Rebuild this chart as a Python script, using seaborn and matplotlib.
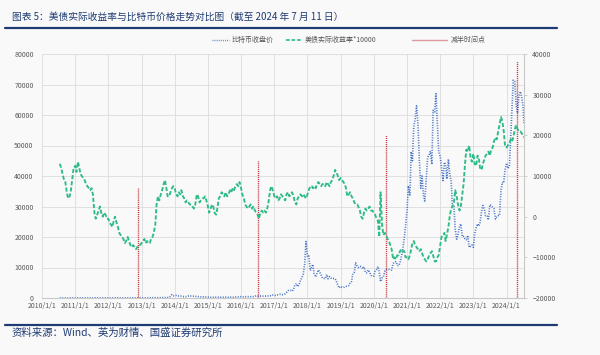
import numpy as np
import pandas as pd
import matplotlib
matplotlib.use("Agg")
import matplotlib.pyplot as plt
import matplotlib.dates as mdates
from matplotlib.lines import Line2D
import seaborn as sns

# ---------------- data (semi-monthly: 1st & 15th, from 2010-07-15; last point 2024-07-11) ----------------
btc_2010 = [0.06, 0.07, 0.07, 0.06, 0.06, 0.06, 0.1, 0.2, 0.28, 0.21, 0.25]
btc_2011 = [0.3, 0.4, 0.9, 1.0, 0.9, 0.8, 0.8, 1.5, 3.5, 7, 10, 20, 16, 14, 13, 11, 8, 5, 5, 4, 3, 2.5, 3, 4]
btc_2012 = [5.3, 6.5, 5.5, 5, 4.9, 5.3, 5, 5, 5.1, 5.2, 6, 6.7, 8, 9, 10, 11, 11, 12, 12, 11, 11, 11, 12, 13]
btc_2013 = [13, 15, 20, 27, 34, 50, 100, 90, 115, 120, 120, 100, 90, 95, 105, 110, 130, 130, 130, 160, 210, 500, 1100, 750]
btc_2014 = [800, 850, 800, 650, 560, 600, 450, 500, 450, 520, 650, 600, 640, 620, 580, 500, 480, 450, 390, 360, 330, 380, 375, 320]
btc_2015 = [300, 210, 230, 260, 270, 250, 245, 225, 235, 240, 225, 245, 260, 285, 280, 230, 230, 230, 240, 265, 330, 330, 360, 430]
btc_2016 = [430, 380, 375, 410, 435, 415, 420, 450, 450, 455, 530, 750, 670, 650, 620, 575, 610, 610, 615, 640, 700, 740, 750, 960]
btc_2017 = [1000, 830, 1000, 1050, 1200, 1200, 1080, 1200, 1400, 1800, 2400, 2500, 2500, 2200, 2800, 4300, 4700, 3700, 4400, 5700, 6700, 7800, 11000, 18500]
btc_2018 = [13500, 13800, 9000, 10000, 11000, 8000, 6900, 8000, 9200, 8500, 7500, 6500, 6400, 6300, 7700, 6300, 7000, 6500, 6600, 6400, 6300, 5500, 4200, 3300]
btc_2019 = [3800, 3600, 3400, 3600, 3800, 4000, 4100, 5000, 5400, 8000, 8500, 11500, 10500, 10000, 10400, 10300, 9600, 10200, 8300, 8300, 9200, 8500, 7400, 7100]
btc_2020 = [7200, 8800, 9400, 10300, 8600, 5400, 6600, 6800, 8800, 9300, 9500, 9400, 9200, 9200, 11300, 11800, 11900, 10700, 10600, 11500, 13700, 16000, 19600, 23500]
btc_2021 = [29000, 36800, 33500, 48000, 45000, 56000, 58800, 63000, 57000, 46000, 36000, 40000, 33500, 31800, 39900, 46000, 47000, 48000, 43800, 61500, 61000, 67000, 57000, 48000]
btc_2022 = [46300, 43000, 38500, 44500, 43900, 39000, 45500, 40500, 38500, 30000, 30000, 22500, 19300, 20800, 23300, 24300, 20100, 20200, 19400, 19100, 20500, 16600, 17000, 17400]
btc_2023 = [16600, 21000, 23100, 24300, 23600, 24700, 28500, 30300, 29200, 27000, 27000, 25600, 30600, 30300, 29700, 29300, 25900, 26600, 27000, 27000, 35400, 37900, 37700, 42000]
btc_2024 = [44200, 42500, 43000, 52000, 62000, 71400, 71000, 63500, 60600, 66200, 67700, 66000, 62700, 57300]

ry_2010 = [13000, 12000, 10500, 9000, 8500, 6000, 4500, 5000, 6500, 9500, 12000]
ry_2011 = [12500, 11000, 13500, 12000, 10500, 10000, 9500, 9000, 8000, 7500, 7000, 6500, 7000, 5500, 1000, -500, 500, 1500, 2500, 1000, 0, 1000, 500, -500]
ry_2012 = [-500, -1500, -2000, -2500, -1000, 0, -1500, -2500, -4000, -4500, -5000, -5500, -6500, -6000, -5000, -6000, -7000, -7500, -7000, -7500, -8000, -7500, -7000, -7000]
ry_2013 = [-6500, -6000, -5500, -6500, -6000, -6500, -6500, -5500, -5000, -4000, -2000, 3000, 5000, 4000, 5500, 6500, 8000, 9000, 7000, 5000, 5000, 6000, 7000, 7500]
ry_2014 = [7000, 5500, 5000, 6000, 5500, 6500, 5000, 4500, 3500, 4000, 3500, 3000, 3000, 2500, 2000, 3000, 5500, 5000, 3500, 4000, 4500, 4500, 5000, 4000]
ry_2015 = [2500, 1000, 2000, 3000, 2500, 1000, 500, 2000, 4500, 5000, 6000, 5500, 5000, 6000, 5000, 5500, 6500, 6000, 7000, 6500, 7500, 8000, 7500, 8500]
ry_2016 = [7000, 5500, 4500, 3000, 2500, 2000, 2500, 3000, 2000, 2500, 1500, 1000, 500, -500, 1000, 1500, 1000, 1500, 1000, 2000, 4000, 6500, 7500, 6500]
ry_2017 = [5000, 4500, 5000, 4000, 4500, 5500, 5000, 4500, 4000, 5500, 6000, 5000, 5500, 6000, 5000, 3500, 3000, 4500, 5000, 5500, 5000, 5500, 5000, 4500]
ry_2018 = [5500, 6500, 7500, 7500, 7000, 7500, 7000, 8000, 8500, 8000, 7500, 8000, 8000, 7500, 8500, 8000, 7500, 8500, 9000, 10000, 11500, 11000, 10000, 9000]
ry_2019 = [9500, 9000, 8500, 8000, 7000, 5000, 5500, 6000, 5000, 4500, 3500, 3000, 3000, 2500, 1500, 0, -500, 1000, 2000, 1500, 2000, 2500, 1500, 1500]
ry_2020 = [1000, 500, -500, -1000, -5000, 6000, -2000, -4500, -4000, -4500, -5500, -6000, -7000, -8000, -10500, -10000, -10500, -9500, -9500, -8500, -8000, -8500, -8500, -10000]
ry_2021 = [-10000, -10500, -9500, -8000, -6500, -6000, -7000, -7500, -8000, -8500, -8000, -9000, -10000, -10500, -11000, -10500, -9500, -9000, -8500, -9500, -11000, -11000, -10000, -9500]
ry_2022 = [-7000, -5000, -4500, -4000, -6000, -4500, -2500, 0, 2000, 2500, 3500, 6500, 5000, 3000, 1500, 2500, 5500, 8000, 13000, 16500, 16000, 17500, 14500, 13500]
ry_2023 = [15500, 13000, 12500, 15000, 14500, 12000, 11500, 13000, 14000, 15000, 15500, 16000, 15000, 16500, 17000, 18500, 19500, 19000, 21000, 22500, 24500, 23500, 21000, 17500]
ry_2024 = [17000, 17500, 18000, 19000, 18500, 19500, 21500, 22500, 21500, 21000, 21000, 20500, 20000, 19500]

halving_dates = ["2012-11-28", "2016-07-09", "2020-05-11", "2024-04-20"]
halving_heights = [36000, 45000, 53500, 77700]

year_ticks = [f"{y}-01-01" for y in range(2010, 2025)]

# ---------------- assemble ----------------
btc = sum([btc_2010, btc_2011, btc_2012, btc_2013, btc_2014, btc_2015, btc_2016, btc_2017,
           btc_2018, btc_2019, btc_2020, btc_2021, btc_2022, btc_2023, btc_2024], [])
ry = sum([ry_2010, ry_2011, ry_2012, ry_2013, ry_2014, ry_2015, ry_2016, ry_2017,
          ry_2018, ry_2019, ry_2020, ry_2021, ry_2022, ry_2023, ry_2024], [])
dates = list(pd.date_range("2010-07-15", periods=len(btc) - 1, freq="SMS")) + [pd.Timestamp("2024-07-11")]
df = pd.DataFrame({"date": dates, "btc": btc, "ry": ry})

# ---------------- style ----------------
sns.set_theme(style="white")
plt.rcParams["font.family"] = ["Noto Sans CJK SC", "DejaVu Sans"]

BG = "#f9f9f9"
GRID = "#dcdcdc"
TXT = "#595959"
NAVY = "#1f3b73"
BLUE = "#4472c4"
GREEN = "#2dbb86"

fig = plt.figure(figsize=(6, 3.55), dpi=100, facecolor=BG)
ax = fig.add_axes([42 / 600, 1 - 298 / 355, (524 - 42) / 600, (298 - 54) / 355])
ax.set_facecolor(BG)
ax2 = ax.twinx()

sns.lineplot(data=df, x="date", y="btc", ax=ax, color=BLUE, lw=1.2,
             linestyle=(0, (0.6, 0.9)), legend=False, zorder=3)
sns.lineplot(data=df, x="date", y="ry", ax=ax2, color=GREEN, lw=1.35,
             linestyle=(0, (2.2, 1.1)), legend=False, zorder=3)

hd = pd.to_datetime(halving_dates)
ax.vlines(hd, 0, halving_heights, colors="#c0262c", lw=1.0, linestyles=(0, (0.7, 0.7)), zorder=4)

ax.set_xlim(pd.Timestamp("2010-01-01"), pd.Timestamp("2024-07-11"))
ax.set_ylim(0, 80000)
ax2.set_ylim(-20000, 40000)
ax.set_yticks(range(0, 80001, 10000))
ax2.set_yticks(range(-20000, 40001, 10000))
ax.set_xticks(pd.to_datetime(year_ticks))
ax.xaxis.set_major_formatter(mdates.DateFormatter("%Y/1/1"))
ax.set_xlabel("")
ax.set_ylabel("")
ax2.set_ylabel("")

ax.grid(True, color=GRID, lw=0.6)
ax2.grid(False)
ax.set_axisbelow(True)

for a in (ax, ax2):
    for s in a.spines.values():
        s.set_visible(False)
ax2.spines["right"].set_visible(True)
ax2.spines["right"].set_color("#c8c8c8")
ax2.spines["right"].set_linewidth(0.8)
ax.spines["bottom"].set_visible(True)
ax.spines["bottom"].set_color("#c8c8c8")
ax.spines["bottom"].set_linewidth(0.8)

ax.tick_params(axis="y", length=0, pad=6, labelsize=5, labelcolor=TXT)
ax.tick_params(axis="x", length=0, pad=3, labelsize=5, labelcolor=TXT)
ax2.tick_params(axis="y", length=2, width=0.6, color="#c8c8c8", pad=4, labelsize=5, labelcolor=TXT)

# legends
h1 = [Line2D([], [], color=BLUE, lw=1.0, linestyle=(0, (0.6, 0.9))),
      Line2D([], [], color=GREEN, lw=1.2, linestyle=(0, (2.2, 1.1)))]
leg1 = fig.legend(h1, ["比特币收盘价", "美债实际收益率*10000"], loc="center left",
                  bbox_to_anchor=(206 / 600, 1 - 40 / 355), ncol=2, frameon=False,
                  fontsize=5, handlelength=2.4, handletextpad=0.4, columnspacing=1.7,
                  labelcolor=TXT)
h2 = [Line2D([], [], color="#dc9aa0", lw=1.0)]
leg2 = fig.legend(h2, ["减半时间点"], loc="center left", bbox_to_anchor=(406 / 600, 1 - 40 / 355),
                  frameon=False, fontsize=5, handlelength=5.0, handletextpad=0.6, labelcolor=TXT)

# title, rules, source
fig.text(12 / 600, 1 - 17 / 355, "图表 5：美债实际收益率与比特币价格走势对比图（截至 2024 年 7 月 11 日）",
         fontsize=7, color=NAVY, style="italic", va="center", ha="left")
fig.add_artist(Line2D([5 / 600, 557 / 600], [1 - 28 / 355] * 2, color=NAVY, lw=1.6))
fig.add_artist(Line2D([5 / 600, 557 / 600], [1 - 324.5 / 355] * 2, color=NAVY, lw=1.6))
fig.text(12 / 600, 1 - 333 / 355, "资料来源：Wind、英为财情、国盛证券研究所",
         fontsize=7.5, color=NAVY, style="italic", va="center", ha="left")

fig.savefig("out.png", dpi=100, facecolor=BG)
